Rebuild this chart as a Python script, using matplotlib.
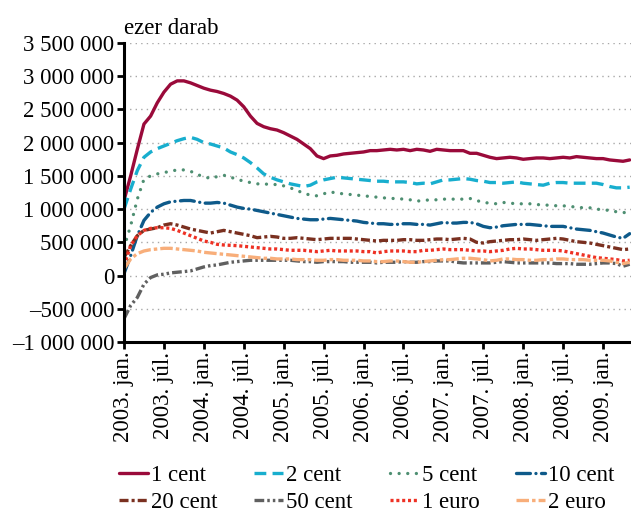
import matplotlib
matplotlib.use("Agg")
import matplotlib.pyplot as plt
from matplotlib.ticker import FuncFormatter, MultipleLocator

plt.rcParams['font.family'] = ['Liberation Serif', 'DejaVu Serif']
plt.rcParams['lines.scale_dashes'] = False

months = list(range(77))
tick_labels = ["2003. jan.", "2003. júl.", "2004. jan.", "2004. júl.", "2005. jan.",
               "2005. júl.", "2006. jan.", "2006. júl.", "2007. jan.", "2007. júl.",
               "2008. jan.", "2008. júl.", "2009. jan."]

cent1 = [1130, 1500, 1900, 2280, 2400, 2600, 2760, 2880, 2930, 2930, 2900, 2860, 2820, 2790, 2770,
         2740, 2700, 2640, 2540, 2400, 2290, 2240, 2210, 2190, 2150, 2100, 2050, 1980, 1910, 1800,
         1760, 1800, 1810, 1830, 1840, 1850, 1860, 1880, 1880, 1890, 1900, 1890, 1900, 1880, 1900,
         1890, 1870, 1900, 1890, 1880, 1880, 1880, 1840, 1840, 1810, 1780, 1760, 1770, 1780, 1770,
         1750, 1760, 1770, 1770, 1760, 1770, 1780, 1770, 1790, 1780, 1770, 1760, 1760, 1740, 1730,
         1720, 1740]
cent2 = [1000, 1300, 1580, 1780, 1860, 1910, 1950, 1990, 2030, 2060, 2080, 2050, 2000, 1980, 1950,
         1920, 1860, 1820, 1770, 1700, 1620, 1530, 1480, 1440, 1410, 1380, 1360, 1340, 1360, 1410,
         1440, 1460, 1480, 1470, 1460, 1450, 1440, 1430, 1420, 1420, 1410, 1410, 1410, 1400, 1380,
         1390, 1380, 1410, 1440, 1440, 1450, 1460, 1450, 1430, 1420, 1400, 1400, 1390, 1400, 1410,
         1390, 1380, 1370, 1360, 1390, 1400, 1400, 1390, 1390, 1390, 1390, 1390, 1370, 1340, 1320,
         1320, 1330]
cent5 = [420, 750, 1150, 1450, 1500, 1530, 1550, 1570, 1590, 1590, 1570, 1520, 1490, 1460, 1490,
         1510, 1480, 1450, 1420, 1400, 1380, 1380, 1370, 1370, 1350, 1320, 1280, 1240, 1210, 1200,
         1230, 1260, 1240, 1230, 1220, 1210, 1200, 1190, 1180, 1170, 1160, 1160, 1150, 1140, 1120,
         1130, 1140, 1140, 1150, 1150, 1150, 1150, 1160, 1130, 1100, 1090, 1080, 1100, 1090, 1080,
         1080, 1080, 1070, 1060, 1060, 1050, 1050, 1040, 1030, 1020, 1020, 1000, 990, 980, 960,
         950, 940]
cent10 = [30, 300, 600, 830, 950, 1030, 1080, 1110, 1120, 1130, 1130, 1110, 1090, 1090, 1100,
          1090, 1060, 1030, 1010, 1000, 980, 960, 940, 920, 900, 880, 860, 850, 840, 840,
          850, 860, 850, 840, 830, 820, 800, 790, 780, 780, 770, 770, 780, 780, 770,
          770, 760, 780, 800, 790, 790, 800, 800, 780, 740, 720, 730, 750, 760, 770,
          770, 770, 760, 750, 740, 740, 740, 720, 700, 690, 680, 660, 640, 610, 580,
          560, 630]
cent20 = [270, 450, 600, 680, 700, 720, 760, 780, 760, 730, 700, 680, 660, 640, 660,
          680, 660, 640, 620, 600, 570, 580, 590, 580, 560, 560, 570, 560, 550, 540,
          550, 560, 560, 560, 560, 550, 540, 530, 520, 530, 530, 530, 540, 540, 530,
          530, 540, 550, 550, 540, 550, 560, 550, 500, 490, 510, 520, 530, 540, 540,
          550, 540, 530, 540, 550, 560, 550, 530, 510, 500, 490, 470, 450, 430, 410,
          390, 400]
cent50 = [-650, -450, -330, -130, -30, 10, 20, 40, 50, 60, 70, 100, 130, 150, 160,
          180, 200, 210, 220, 230, 230, 230, 230, 230, 230, 230, 220, 210, 210, 200,
          210, 210, 210, 210, 200, 200, 200, 200, 190, 200, 200, 200, 210, 200, 200,
          210, 210, 220, 220, 220, 200, 190, 190, 190, 190, 190, 200, 210, 200, 190,
          190, 190, 190, 190, 190, 180, 180, 180, 170, 170, 170, 180, 190, 190, 180,
          140, 170]
euro1 = [150, 450, 600, 680, 710, 720, 720, 710, 680, 640, 600, 560, 520, 500, 470,
         460, 455, 450, 440, 430, 420, 410, 400, 400, 390, 380, 380, 380, 370, 360,
         370, 380, 370, 370, 370, 370, 360, 360, 340, 360, 370, 370, 370, 360, 360,
         380, 380, 390, 400, 390, 390, 390, 380, 370, 370, 360, 370, 380, 400, 410,
         400, 400, 390, 380, 380, 380, 370, 350, 330, 310, 290, 270, 260, 250, 240,
         220, 230]
euro2 = [100, 250, 330, 370, 390, 400, 410, 410, 400, 390, 380, 370, 350, 340, 330,
         320, 310, 300, 290, 280, 270, 260, 260, 250, 250, 250, 240, 240, 240, 230,
         230, 240, 240, 230, 230, 230, 220, 220, 210, 210, 220, 220, 210, 200, 200,
         210, 220, 230, 240, 240, 250, 260, 260, 250, 240, 220, 230, 250, 250, 240,
         240, 230, 230, 240, 240, 250, 250, 240, 240, 240, 230, 230, 230, 220, 200,
         180, 200]

series = [
    ("1 cent", cent1, '#9A0A3A', None),
    ("2 cent", cent2, '#18AECE', (8.5, 4.5)),
    ("5 cent", cent5, '#4E8F72', (0.01, 6.2)),
    ("10 cent", cent10, '#0E5A8A', (10, 4, 0.01, 4)),
    ("20 cent", cent20, '#7A3020', (6.5, 2.2, 2.2, 2.2)),
    ("50 cent", cent50, '#606060', (7, 2.2, 1.8, 2.2, 1.8, 2.2)),
    ("1 euro", euro1, '#EE3124', (2.2, 2.0)),
    ("2 euro", euro2, '#F8AE7A', (9, 2.2, 2.5, 2.2)),
]

FS = 16.5
fig = plt.figure(figsize=(6.31, 5.12), dpi=100)
ax = fig.add_axes([124/631, 1-342/512, 1-124/631, (342-43)/512])

handles = []
for name, vals, color, dash in series:
    y = [v * 1000 for v in vals]
    if dash is None:
        h, = ax.plot(months, y, color=color, lw=2.4, label=name, solid_capstyle='round')
    else:
        cap = 'round' if name in ("5 cent", "10 cent") else 'butt'
        h, = ax.plot(months, y, color=color, lw=2.4, label=name, dashes=dash,
                     dash_capstyle=cap)
    handles.append(h)

ax.set_ylim(-1_000_000, 3_500_000)
ax.set_xlim(0, 76.2)
ax.yaxis.set_major_locator(MultipleLocator(500_000))

def fmt(v, pos):
    s = f"{abs(int(round(v))):,}".replace(",", " ")
    return ("\u2013" + s) if v < 0 else s

ax.yaxis.set_major_formatter(FuncFormatter(fmt))
ax.set_xticks(list(range(0, 73, 6)))
ax.set_xticklabels(tick_labels, rotation=90)

ax.grid(axis='y', color='#A8A8A8', linestyle=(0, (1, 3)), linewidth=1.0)
ax.set_axisbelow(True)
for s in ['top', 'right']:
    ax.spines[s].set_visible(False)
for s in ['left', 'bottom']:
    ax.spines[s].set_linewidth(2.2)
ax.tick_params(axis='both', direction='out', length=5, width=2, labelsize=FS, pad=2)

fig.text(124/631, 1-28/512, "ezer darab", fontsize=FS, va='center', ha='left')

order = [0, 4, 1, 5, 2, 6, 3, 7]
fig.legend([handles[i] for i in order], [series[i][0] for i in order],
           loc='upper left', bbox_to_anchor=(119/631, 1-465/512), ncol=4, frameon=False,
           fontsize=FS, handlelength=1.25, handletextpad=0.15, columnspacing=1.6,
           labelspacing=0.28, borderaxespad=0, borderpad=0)

fig.savefig("out.png", dpi=100)
